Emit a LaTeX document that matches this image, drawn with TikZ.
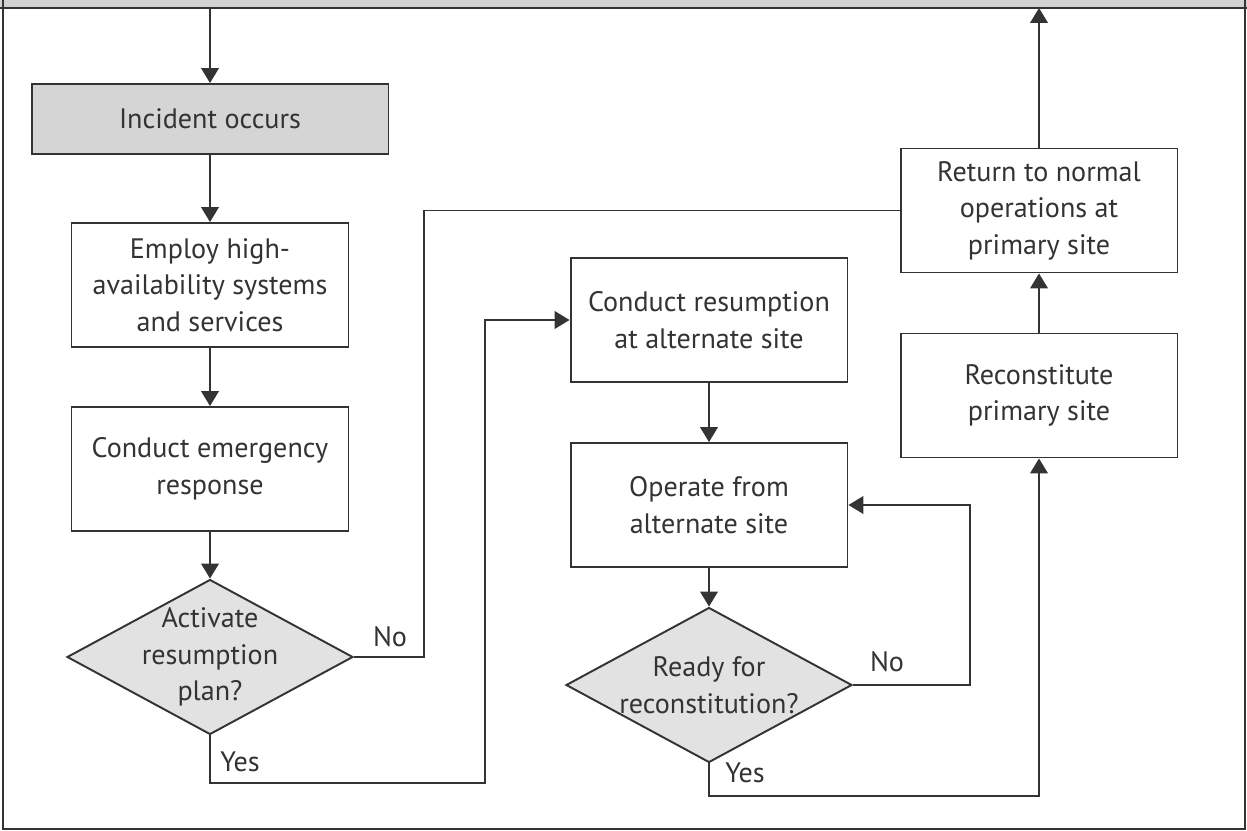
\documentclass[tikz,border=0pt]{standalone}
\usepackage{fontspec}
\setmainfont{PT Sans}
\usepackage{tikz}
\usetikzlibrary{arrows.meta, positioning, shapes.geometric}
\definecolor{flowink}{HTML}{333333}
\definecolor{bandgray}{HTML}{D2D2D2}
\definecolor{startgray}{HTML}{D5D5D5}
\definecolor{askgray}{HTML}{E2E2E2}

\tikzset{
  flowbox/.style={draw=flowink, line width=1.1pt, minimum width=5.54cm,
    minimum height=2.48cm, align=center, text=flowink, inner sep=2pt,
    font=\fontsize{16}{20.8}\selectfont},
  askbox/.style={diamond, aspect=1.85, draw=flowink, fill=askgray,
    line width=1.1pt, minimum width=5.72cm, minimum height=3.1cm,
    inner sep=-12pt, align=center, text=flowink,
    font=\fontsize{16}{20.8}\selectfont},
  flow/.style={draw=flowink, line width=1.1pt,
    -{Triangle[length=8.5pt, width=10pt]}},
  link/.style={draw=flowink, line width=1.1pt},
  answer/.style={text=flowink, font=\fontsize{16}{17}\selectfont}
}

\begin{document}
\begin{tikzpicture}[x=0.02cm, y=-0.02cm]
  \useasboundingbox (0,0) rectangle (1247,831);
  % frame
  \fill[bandgray] (0,0) rectangle (1247,8);
  \draw[link] (3,0) -- (3,829) -- (1245,829) -- (1245,0);
  \draw[link] (0,8) -- (1247,8);

  % left column
  \node[flowbox, fill=startgray, minimum width=7.14cm, minimum height=1.4cm]
    (incident) at (210,119) {Incident occurs};
  \node[flowbox] (employ) at (210,285)
    {Employ high-\\availability systems\\and services};
  \node[flowbox] (emergency) at (210,469) {Conduct emergency\\response};
  \node[askbox] (activate) at (210,657) {Activate\\resumption\\plan?};

  % middle column
  \node[flowbox] (resumption) at (709,320) {Conduct resumption\\at alternate site};
  \node[flowbox] (operate) at (709,505) {Operate from\\alternate site};
  \node[askbox] (ready) at (709,685) {Ready for\\reconstitution?};

  % right column
  \node[flowbox] (normal) at (1039,210.5)
    {Return to normal\\operations at\\primary site};
  \node[flowbox] (reconst) at (1039,395.5) {Reconstitute\\primary site};

  \coordinate (topin) at (210,8);
  \coordinate (topout) at (1039,8);
  \coordinate (yesturn) at (485,320);

  \draw[flow] (topin) -- (incident);
  \draw[flow] (incident) -- (employ);
  \draw[flow] (employ) -- (emergency);
  \draw[flow] (emergency) -- (activate);
  \draw[link] (activate.east) -- ++(70,0) |- (normal.west);
  \draw[flow] (activate.south) -- ++(0,48) -| (yesturn) -- (resumption.west);

  \draw[flow] (resumption) -- (operate);
  \draw[flow] (operate) -- (ready);
  \draw[flow] (ready.east) -- ++(117,0) |- (operate.east);
  \draw[flow] (ready.south) -- ++(0,33) -| (reconst.south);

  \draw[flow] (reconst) -- (normal);
  \draw[flow] (normal) -- (topout);

  \node[answer] (noa) at (390,637) {No};
  \node[answer] (yesa) at (240,762) {Yes};
  \node[answer] (nob) at (887,662) {No};
  \node[answer] (yesb) at (745,773) {Yes};
\end{tikzpicture}
\end{document}
